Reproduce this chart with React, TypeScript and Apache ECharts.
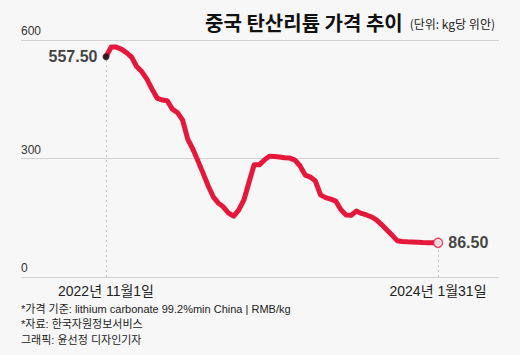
import React, { useEffect, useRef } from "react";
import * as echarts from "echarts";

// Weekly carbonate lithium price (RMB/kg), 2022-11-01 .. 2024-01-31
const prices: number[] = [
  557.5, 582, 582, 577, 568, 557, 533, 520, 501, 476,
  453, 448, 446, 425, 416, 397, 349, 324, 294, 263,
  231, 203, 187, 177, 162, 154, 170, 195, 240, 284,
  284, 296, 306, 305, 304, 302, 301, 296, 281, 258,
  253, 243, 208, 201, 197, 192, 170, 157, 156, 167,
  161, 157, 152, 144, 132, 119, 106, 92, 90, 89,
  88.6, 88, 87.3, 87, 86.8, 86.5,
];
const startLabel = "2022년 11월1일";
const endLabel = "2024년 1월31일";
const startValueText = "557.50";
const endValueText = "86.50";
const yTicks = [0, 300, 600];
const titleMain = "중국 탄산리튬 가격 추이";
const titleUnit = "(단위: kg당 위안)";
const notes = [
  "*가격 기준: lithium carbonate 99.2%min China | RMB/kg",
  "*자료: 한국자원정보서비스",
  "그래픽: 윤선정 디자인기자",
];

const FONT = "'Liberation Sans', 'Noto Sans CJK KR', sans-serif";
const KFONT = "'Noto Sans CJK KR', sans-serif";

export default function App() {
  const ref = useRef<HTMLDivElement>(null);
  useEffect(() => {
    document.body.style.margin = "0";
    if (!ref.current) return;
    const chart = echarts.init(ref.current, undefined, { renderer: "svg" });
    const last = prices.length - 1;
    const lineData = prices.map((v, i) => [i, v]);
    chart.setOption({
      animation: false,
      backgroundColor: "#f7f7f7",
      textStyle: { fontFamily: FONT },
      title: {
        text: `{a|${titleMain}} {b|${titleUnit}}`,
        right: 20,
        top: 7,
        textStyle: {
          rich: {
            a: { fontFamily: KFONT, fontSize: 20, fontWeight: "bold", color: "#111" },
            b: {
              fontFamily: KFONT,
              fontSize: 12,
              fontWeight: "normal",
              color: "#222",
              padding: [4, 0, 0, 2],
            },
          },
        },
      },
      grid: { left: 21, right: 21, top: 40, bottom: 78 },
      xAxis: {
        type: "value",
        min: -16.64,
        max: last + 11.94,
        show: false,
        splitLine: { show: false },
      },
      yAxis: {
        type: "value",
        min: yTicks[0],
        max: yTicks[yTicks.length - 1],
        interval: 300,
        axisLine: { show: false },
        axisTick: { show: false },
        splitLine: { lineStyle: { color: "#d2d2d2", width: 1 } },
        axisLabel: {
          inside: true,
          margin: 0,
          verticalAlign: "bottom",
          padding: [0, 0, 3, 0],
          color: "#333",
          fontSize: 12,
          fontFamily: FONT,
        },
      },
      graphic: notes.map((t, i) => ({
        type: "text",
        left: 21,
        top: 303 + i * 15.5,
        style: { text: t, fill: "#222", fontSize: 11, fontFamily: FONT },
      })),
      series: [
        {
          type: "line",
          data: lineData,
          showSymbol: false,
          lineStyle: { color: "#e5173b", width: 5, join: "round", cap: "round" },
          z: 3,
          markLine: {
            silent: true,
            symbol: "none",
            lineStyle: { type: [2, 3], color: "#c4c4c4", width: 1 },
            label: {
              show: true,
              position: "start",
              distance: 7,
              color: "#222",
              fontSize: 14,
              fontFamily: FONT,
            },
            data: [
              [
                { coord: [0, 0], label: { formatter: startLabel } },
                { coord: [0, prices[0]] },
              ],
              [
                { coord: [last, 0], label: { formatter: endLabel } },
                { coord: [last, prices[last]] },
              ],
            ],
          },
        },
        {
          type: "scatter",
          z: 5,
          data: [
            {
              value: [0, prices[0]],
              symbolSize: 7,
              itemStyle: { color: "#111" },
              label: {
                show: true,
                position: "left",
                distance: 5,
                formatter: startValueText,
              },
            },
            {
              value: [last, prices[last]],
              symbolSize: 9,
              itemStyle: { color: "#fff", borderColor: "#e5173b", borderWidth: 1.5 },
              label: {
                show: true,
                position: "right",
                distance: 5,
                formatter: endValueText,
              },
            },
          ],
          label: {
            fontSize: 16,
            fontWeight: "bold",
            color: "#111",
            fontFamily: FONT,
          },
        },
      ],
    });
    return () => chart.dispose();
  }, []);
  return (
    <div
      ref={ref}
      style={{ position: "absolute", left: 0, top: 0, width: 520, height: 355 }}
    />
  );
}
